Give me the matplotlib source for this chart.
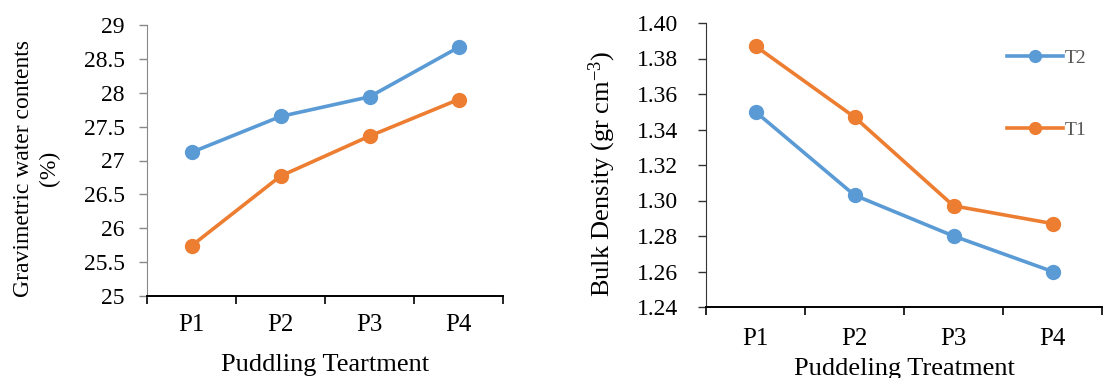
import matplotlib
matplotlib.use("Agg")
import matplotlib.pyplot as plt

categories = ["P1", "P2", "P3", "P4"]
gwc_t2 = [27.12, 27.65, 27.94, 28.67]
gwc_t1 = [25.74, 26.77, 27.36, 27.90]
bd_t2 = [1.350, 1.303, 1.280, 1.260]
bd_t1 = [1.387, 1.347, 1.297, 1.287]
gwc_ticks = [25, 25.5, 26, 26.5, 27, 27.5, 28, 28.5, 29]
bd_ticks = [1.24, 1.26, 1.28, 1.30, 1.32, 1.34, 1.36, 1.38, 1.40]

BLUE = "#5B9BD5"
ORANGE = "#ED7D31"
plt.rcParams['font.family'] = ['Liberation Serif', 'DejaVu Serif']
plt.rcParams['mathtext.fontset'] = 'custom'
plt.rcParams['mathtext.rm'] = 'Liberation Serif'
plt.rcParams['mathtext.default'] = 'regular'

fig = plt.figure(figsize=(11.05, 3.78), dpi=100)
ax1 = fig.add_axes([147/1105, 1-296/378, (503-147)/1105, (296-25)/378])
ax2 = fig.add_axes([706/1105, 1-307/378, (1102-706)/1105, (307-23)/378])

x = list(range(len(categories)))
lw, ms = 2.6, 10

for ax in (ax1, ax2):
    for s in ("top", "right"):
        ax.spines[s].set_visible(False)
    ax.set_xlim(-0.5, len(categories) - 0.5)
    ax.set_xticks([i - 0.5 for i in range(len(categories) + 1)])
    ax.set_xticklabels([])
    ax.set_xticks(x, minor=True)
    ax.set_xticklabels(categories, minor=True, fontsize=18)
    ax.tick_params(axis='x', which='major', length=6, width=1.2, direction='out')
    ax.spines['bottom'].set_linewidth(1.4)
    ax.spines['bottom'].set_color('black')

ax1.tick_params(axis='x', which='minor', length=0, pad=13)
ax2.tick_params(axis='x', which='minor', length=0, pad=15)
ax1.tick_params(axis='y', length=6, width=1, direction='out', labelsize=17, pad=10, color='#888888')
ax2.tick_params(axis='y', length=6, width=1, direction='out', labelsize=17, pad=14, color='#333333')

ax1.spines['left'].set_color('#888888')
ax1.plot(x, gwc_t2, color=BLUE, lw=lw, marker='o', ms=ms, label='T2')
ax1.plot(x, gwc_t1, color=ORANGE, lw=lw, marker='o', ms=ms, label='T1')
ax1.set_ylim(25, 29)
ax1.set_yticks(gwc_ticks)
ax1.set_yticklabels([f"{t:g}" for t in gwc_ticks])
ax1.set_ylabel("Gravimetric water contents\n(%)", fontsize=17, labelpad=17, linespacing=1.3)
ax1.yaxis.label.set_y(0.47)
ax1.set_xlabel("Puddling Teartment", fontsize=19, labelpad=13)

ax2.spines['left'].set_color('#333333')
ax2.plot(x, bd_t2, color=BLUE, lw=lw, marker='o', ms=ms, label='T2')
ax2.plot(x, bd_t1, color=ORANGE, lw=lw, marker='o', ms=ms, label='T1')
ax2.set_ylim(1.24, 1.40)
ax2.set_yticks(bd_ticks)
ax2.set_yticklabels([f"{t:.2f}" for t in bd_ticks])
ax2.set_ylabel("Bulk Density (gr cm$^{-3}$)", fontsize=19, labelpad=14)
ax2.yaxis.label.set_y(0.47)
ax2.set_xlabel("Puddeling Treatment", fontsize=19, labelpad=6)
ax2.legend(loc='upper left', bbox_to_anchor=(0.715, 0.97), frameon=False,
           fontsize=14, labelspacing=2.8, handlelength=2.9, handletextpad=0.1,
           labelcolor='#555555', markerscale=0.85)

fig.savefig("out.png", dpi=100)
